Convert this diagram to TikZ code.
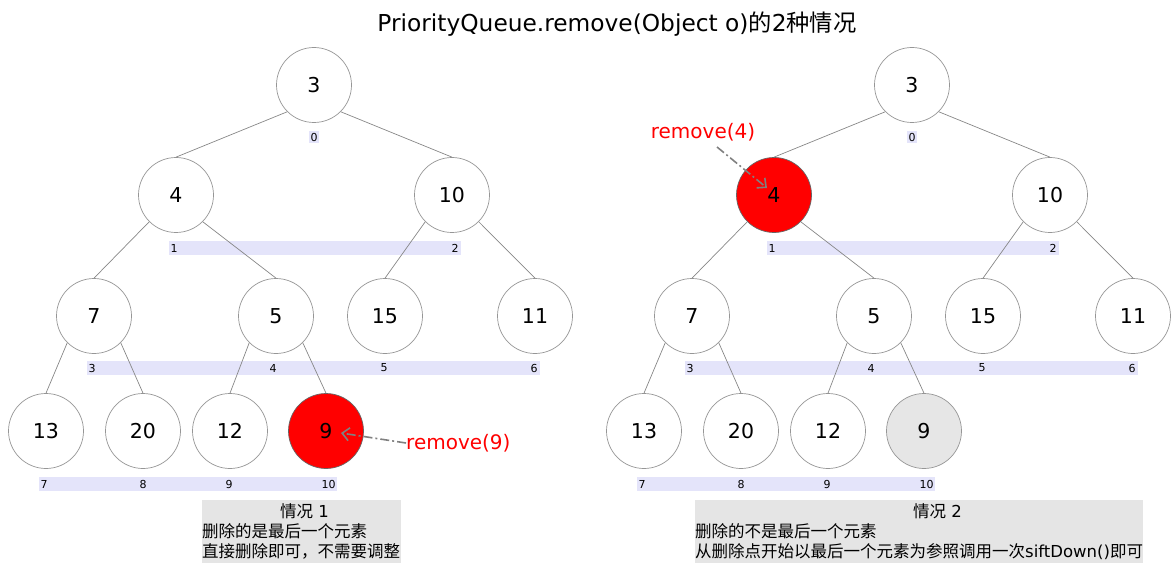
\documentclass[tikz,border=0pt]{standalone}
\usepackage{fontspec}
\setmainfont{DejaVu Sans}
\newfontfamily\cjk{Noto Sans CJK SC}
\usetikzlibrary{arrows.meta,calc,backgrounds}
\definecolor{lav}{RGB}{228,228,250}
\definecolor{edgegray}{RGB}{135,135,135}
\definecolor{bordergray}{RGB}{150,150,150}
\definecolor{boxgray}{RGB}{229,229,229}
\definecolor{ptrgray}{RGB}{128,128,128}
\definecolor{lightnode}{RGB}{230,230,230}
\tikzset{
  hn/.style={circle,draw=bordergray,line width=0.7pt,fill=white,minimum size=75pt,inner sep=0pt,font=\fontsize{20.5}{20.5}\selectfont},
  rednode/.style={fill=red,draw=gray!80!black},
  graynode/.style={fill=lightnode},
  plainnode/.style={},
  edge/.style={draw=edgegray,line width=0.7pt},
  idx/.style={anchor=west,inner sep=1.5pt,font=\fontsize{11}{11}\selectfont},
  idx0/.style={inner sep=1.5pt,fill=lav,font=\fontsize{11}{11}\selectfont},
  redtxt/.style={text=red,inner sep=0pt,font=\fontsize{20}{20}\selectfont},
  ptr/.style={draw=ptrgray,line width=1.6pt,dash pattern=on 9pt off 3pt on 2pt off 3pt,-{Straight Barb[length=7pt,width=13pt,line width=1.6pt]}},
  boxbg/.style={fill=boxgray,inner sep=0pt,anchor=north west},
  boxtxt/.style={anchor=base west,inner sep=0pt,font=\fontsize{16.5}{20}\selectfont},
}
\newcommand{\myheap}[4]{%
  \node[hn] (#1n0) at (#2+314,85) {3};
  \node[hn,#3] (#1n1) at (#2+176,195) {4};
  \node[hn] (#1n2) at (#2+452,195) {10};
  \node[hn] (#1n3) at (#2+94,316) {7};
  \node[hn] (#1n4) at (#2+276,316) {5};
  \node[hn] (#1n5) at (#2+385,316) {15};
  \node[hn] (#1n6) at (#2+535,316) {11};
  \node[hn] (#1n7) at (#2+46,431) {13};
  \node[hn] (#1n8) at (#2+143,431) {20};
  \node[hn] (#1n9) at (#2+230,431) {12};
  \node[hn,#4] (#1n10) at (#2+326,431) {9};
  \draw[edge] (#1n0.south west) -- (#1n1.north);
  \draw[edge] (#1n0.south east) -- (#1n2.north);
  \draw[edge] (#1n1.south west) -- (#1n3.north);
  \draw[edge] (#1n1.south east) -- (#1n4.north);
  \draw[edge] (#1n2.south west) -- (#1n5.north);
  \draw[edge] (#1n2.south east) -- (#1n6.north);
  \draw[edge] (#1n3.south west) -- (#1n7.north);
  \draw[edge] (#1n3.south east) -- (#1n8.north);
  \draw[edge] (#1n4.south west) -- (#1n9.north);
  \draw[edge] (#1n4.south east) -- (#1n10.north);
  \node[idx0] (#1i0) at (#2+314,137) {0};
  \node[idx] (#1i1) at (#2+169,248) {1};
  \node[idx] (#1i2) at (#2+450,248) {2};
  \node[idx] (#1i3) at (#2+87,368) {3};
  \node[idx] (#1i4) at (#2+268,368) {4};
  \node[idx] (#1i5) at (#2+379,368) {5};
  \node[idx] (#1i6) at (#2+529,368) {6};
  \node[idx] (#1i7) at (#2+39,484) {7};
  \node[idx] (#1i8) at (#2+138,484) {8};
  \node[idx] (#1i9) at (#2+224,484) {9};
  \node[idx] (#1i10) at (#2+320,484) {10};
  \begin{pgfonlayer}{background}
    \fill[lav] ($(#1i1.west)+(0,-7)$) rectangle ($(#1i2.east)+(1,7)$);
    \fill[lav] ($(#1i3.west)+(0,-7)$) rectangle ($(#1i6.east)+(1,7)$);
    \fill[lav] ($(#1i7.west)+(0,-7)$) rectangle ($(#1i10.east)+(0,7)$);
  \end{pgfonlayer}
}
\begin{document}
\begin{tikzpicture}[x=1pt,y=-1pt]
\useasboundingbox (0,0) rectangle (1176,575);
\node (title) at (617,24) {\fontsize{23.3}{23.3}\selectfont PriorityQueue.remove(Object o){\cjk 的}2{\cjk 种情况}};
\myheap{L}{0}{plainnode}{rednode}
\myheap{R}{598}{rednode}{graynode}
% pointers
\node[redtxt,anchor=west] (r9) at (406,443) {remove(9)};
\coordinate (a9) at (341,433);
\draw[ptr] (r9.west) -- (a9);
\node[redtxt] (r4) at (703,132) {remove(4)};
\coordinate (s4) at (717,147);
\coordinate (a4) at (767,188);
\draw[ptr] (s4) -- (a4);
% boxes
\node[boxbg,minimum width=199pt,minimum height=63pt] (box1) at (202,500) {};
\node[boxtxt] (b1h) at (280,517) {{\cjk 情况} 1};
\node[boxtxt] (b1a) at (202,537) {\cjk 删除的是最后一个元素};
\node[boxtxt] (b1b) at (202,557) {\cjk 直接删除即可，不需要调整};
\node[boxbg,minimum width=448pt,minimum height=63pt] (box2) at (695,500) {};
\node[boxtxt] (b2h) at (913,517) {{\cjk 情况} 2};
\node[boxtxt] (b2a) at (695,537) {\cjk 删除的不是最后一个元素};
\node[boxtxt] (b2b) at (695,557) {{\cjk 从删除点开始以最后一个元素为参照调用一次}siftDown(){\cjk 即可}};
\end{tikzpicture}
\end{document}
